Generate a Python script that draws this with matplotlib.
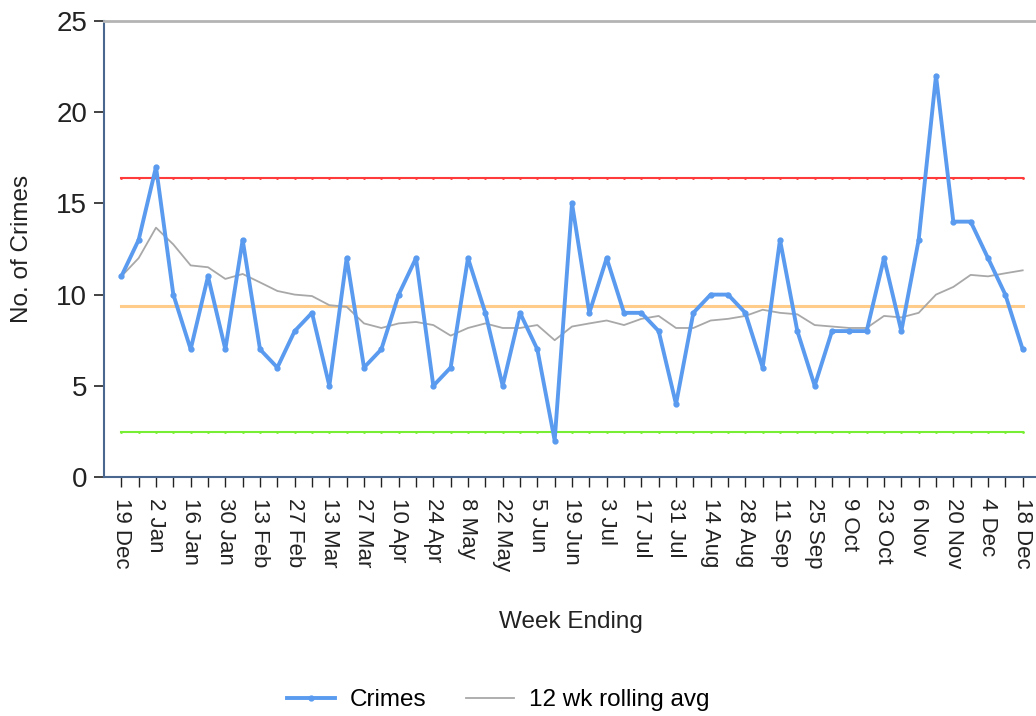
import numpy as np
import matplotlib
matplotlib.use('Agg')
import matplotlib.pyplot as plt

plt.rcParams['font.family'] = ['Liberation Sans', 'DejaVu Sans']

# weekly counts, week ending 19 Dec ... 18 Dec
crimes = [11, 13, 17, 10, 7, 11, 7, 13, 7, 6, 8, 9, 5, 12, 6, 7, 10, 12, 5, 6,
          12, 9, 5, 9, 7, 2, 15, 9, 12, 9, 9, 8, 4, 9, 10, 10, 9, 6, 13, 8,
          5, 8, 8, 8, 12, 8, 13, 22, 14, 14, 12, 10, 7]

# 12 week rolling average as drawn (grey line)
rolling_avg = [11.0, 12.0, 13.67, 12.75, 11.6, 11.5, 10.86, 11.13, 10.67, 10.2,
               10.0, 9.92, 9.42, 9.33, 8.42, 8.17, 8.42, 8.5, 8.33, 7.75,
               8.17, 8.42, 8.17, 8.17, 8.33, 7.5, 8.25, 8.42, 8.58, 8.33,
               8.67, 8.83, 8.17, 8.17, 8.58, 8.67, 8.83, 9.17, 9.0, 8.92,
               8.33, 8.25, 8.17, 8.17, 8.83, 8.75, 9.0, 10.0, 10.42, 11.08,
               11.0, 11.17, 11.33]

# control lines
mean_line = 9.4
upper_line = 16.4
lower_line = 2.45

# every other week is labelled
week_labels = ['19 Dec', '2 Jan', '16 Jan', '30 Jan', '13 Feb', '27 Feb', '13 Mar',
               '27 Mar', '10 Apr', '24 Apr', '8 May', '22 May', '5 Jun', '19 Jun',
               '3 Jul', '17 Jul', '31 Jul', '14 Aug', '28 Aug', '11 Sep', '25 Sep',
               '9 Oct', '23 Oct', '6 Nov', '20 Nov', '4 Dec', '18 Dec']

n = len(crimes)
x = np.arange(n)

fig = plt.figure(figsize=(10.36, 7.16), dpi=100)
ax = fig.add_axes([104 / 1036, 239 / 716, 936 / 1036, 456 / 716])

ax.plot(x, [upper_line] * n, color='#ff3b3b', lw=1.5, marker='.', ms=2, zorder=2)
ax.plot(x, [mean_line] * n, color='#ffcc8a', lw=2.2, marker='.', ms=2, zorder=2)
ax.plot(x, [lower_line] * n, color='#77ee33', lw=1.5, marker='.', ms=2, zorder=2)
ax.plot(x, rolling_avg, color='#a8a8a8', lw=1.3, zorder=3, label='12 wk rolling avg')
ax.plot(x, crimes, color='#5a9bf0', lw=2.8, marker='o', ms=3.5, zorder=4, label='Crimes')

ax.set_xlim(-1, n)
ax.set_ylim(0, 25)
ax.set_yticks([0, 5, 10, 15, 20, 25])

labels = []
for i in range(n):
    if i % 2 == 0:
        labels.append(week_labels[i // 2])
    else:
        labels.append('')
ax.set_xticks(x)
ax.set_xticklabels(labels, rotation=270, ha='center', va='top', fontsize=16)

ax.tick_params(axis='y', labelsize=20, length=7, width=1.2, pad=5, colors='#222222')
ax.tick_params(axis='x', length=7, width=1.0, pad=8, colors='#222222')

for s in ['left', 'bottom']:
    ax.spines[s].set_color('#4a6790')
    ax.spines[s].set_linewidth(1.5)
ax.spines['top'].set_color('#b4b4b4')
ax.spines['top'].set_linewidth(2)
ax.spines['right'].set_visible(False)

fig.text(22 / 1036, 1 - 249 / 716, 'No. of Crimes', rotation=90, ha='center',
         va='center', fontsize=17.5, color='#222222')
fig.text(571 / 1036, 1 - 622 / 716, 'Week Ending', ha='center', va='center',
         fontsize=17.5, color='#222222')

h, l = ax.get_legend_handles_labels()
fig.legend(h[::-1], l[::-1], loc='center', bbox_to_anchor=(498 / 1036, 1 - 700 / 716),
           ncol=2, frameon=False, fontsize=17.5, handlelength=2.0,
           handletextpad=0.6, columnspacing=1.6)

fig.savefig('out.png', dpi=100)
